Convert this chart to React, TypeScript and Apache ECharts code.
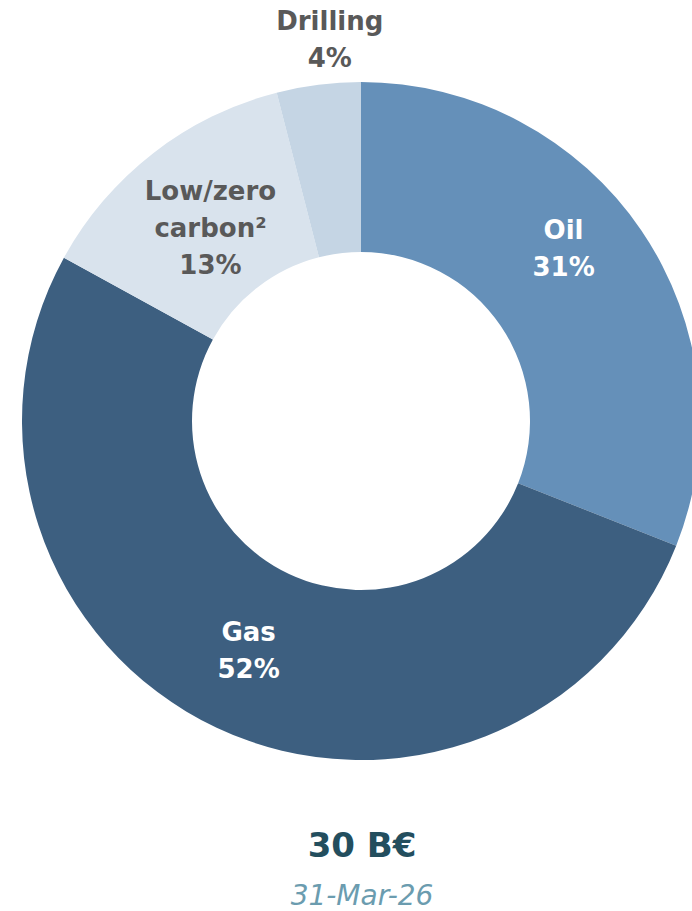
import React, { useEffect, useRef } from "react";
import * as echarts from "echarts";

const categories = ["Oil", "Gas", "Low/zero\ncarbon²", "Drilling"];
const shares = [31, 52, 13, 4];
const sliceColors = ["#6590B9", "#3D5F80", "#D9E3ED", "#C5D5E4"];
const labelColors = ["#FFFFFF", "#FFFFFF", "#595959", "#595959"];
const totalLabel = "30 B€";
const dateLabel = "31-Mar-26";

const labelShift: Record<number, [number, number]> = {
  0: [-10, -28],
  1: [-3, -3],
  2: [7, 10],
  3: [1, -127],
};

export default function App() {
  const ref = useRef<HTMLDivElement>(null);
  useEffect(() => {
    document.body.style.margin = "0";
    const chart = echarts.init(ref.current!, undefined, { renderer: "svg" });
    const font = "DejaVu Sans";
    chart.setOption({
      animation: false,
      backgroundColor: "#ffffff",
      series: [
        {
          type: "pie",
          center: [361, 421],
          radius: [169, 339],
          startAngle: 90,
          clockwise: true,
          avoidLabelOverlap: false,
          labelLine: { show: false },
          label: {
            show: true,
            position: "inside",
            fontFamily: font,
            fontWeight: "bold",
            fontSize: 26,
            lineHeight: 37,
            align: "center",
            formatter: (p: any) => `${p.name}\n${p.value}%`,
          },
          labelLayout: (p: any) => {
            const s = labelShift[p.dataIndex] || [0, 0];
            return { dx: s[0], dy: s[1] };
          },
          emphasis: { disabled: true },
          data: categories.map((c, i) => ({
            name: c,
            value: shares[i],
            itemStyle: { color: sliceColors[i] },
            label: { color: labelColors[i] },
          })),
        },
      ],
      graphic: [
        {
          type: "text",
          x: 362,
          y: 845,
          style: {
            text: totalLabel,
            fill: "#234E5E",
            font: `bold 34px '${font}'`,
            textAlign: "center",
            textVerticalAlign: "middle",
          },
        },
        {
          type: "text",
          x: 362,
          y: 895,
          style: {
            text: dateLabel,
            fill: "#6B9CAF",
            font: `italic 28px '${font}'`,
            textAlign: "center",
            textVerticalAlign: "middle",
          },
        },
      ],
    });
    return () => chart.dispose();
  }, []);
  return <div ref={ref} style={{ width: 692, height: 911 }} />;
}
